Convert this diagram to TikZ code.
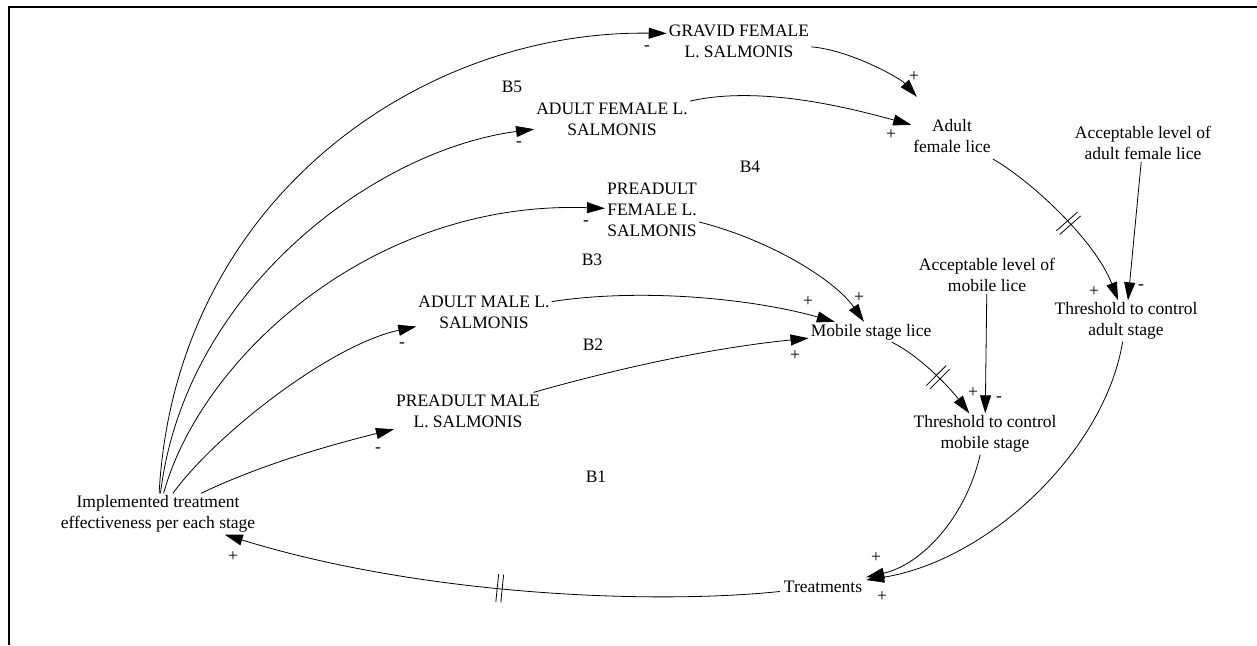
\documentclass[tikz,border=0pt]{standalone}
\usepackage{fontspec}
\setmainfont{Liberation Serif}
\usetikzlibrary{arrows.meta,decorations.markings}
\begin{document}
\begin{tikzpicture}[x=1pt,y=-1pt,
  var/.style={font=\fontsize{17.5}{21}\selectfont, align=center, inner sep=2pt},
  sgn/.style={font=\fontsize{17.5}{21}\selectfont, inner sep=0pt},
  lnk/.style={line width=0.8pt, -{Triangle[length=18pt,width=11pt]}},
  hashmark/.style={postaction={decorate,decoration={markings,mark=at position #1 with {\draw[-,line width=0.8pt] (-2.5pt,-14pt)--(-2.5pt,14pt) (2.5pt,-14pt)--(2.5pt,14pt);}}}}
]
\useasboundingbox (0,0) rectangle (1257,645);
\draw[line width=1.8pt] (9,645) -- (9,7) -- (1257,7);

% variables
\node[var] (gravid) at (739,41) {GRAVID FEMALE\\L. SALMONIS};
\node[var] (af) at (612,119) {ADULT FEMALE L.\\SALMONIS};
\node[var] (pf) at (652,210) {PREADULT\\FEMALE L.\\SALMONIS};
\node[var] (am) at (484,312) {ADULT MALE L.\\SALMONIS};
\node[var] (pm) at (468,411) {PREADULT MALE\\L. SALMONIS};
\node[var, minimum width=80pt, minimum height=78pt] (afl) at (952,136) {Adult\\female lice};
\node[var] (acca) at (1143,143) {Acceptable level of\\adult female lice};
\node[var] (ml) at (871,332) {Mobile stage lice};
\node[var] (accm) at (987,275) {Acceptable level of\\mobile lice};
\node[var] (tha) at (1126,321) {Threshold to control\\adult stage};
\node[var] (thm) at (985,434) {Threshold to control\\mobile stage};
\node[var, minimum width=86pt, minimum height=26pt] (tr) at (823,587) {Treatments};
\node[var] (impl) at (158,514) {Implemented treatment\\effectiveness per each stage};

% loop labels
\node[var] (b5) at (512,87) {B5};
\node[var] (b4) at (750,167) {B4};
\node[var] (b3) at (592,260) {B3};
\node[var] (b2) at (593,345) {B2};
\node[var] (b1) at (596,477) {B1};

% links from treatment effectiveness
\draw[lnk] (impl) .. controls (175,200) and (420,30) .. (gravid.174);
\draw[lnk] (impl) .. controls (185,290) and (375,150) .. (af);
\draw[lnk] (impl) .. controls (200,360) and (370,200) .. (pf);
\draw[lnk] (impl) .. controls (215,435) and (330,345) .. (am);
\draw[lnk] (impl) .. controls (260,465) and (330,445) .. (pm);

% to adult female lice
\draw[lnk] (gravid) .. controls (850,50) and (900,78) .. (afl);
\draw[lnk] (af) .. controls (760,85) and (850,108) .. (afl);

% to mobile stage lice
\draw[lnk] (pf) .. controls (770,240) and (835,280) .. (ml);
\draw[lnk] (am) .. controls (640,288) and (750,298) .. (ml);
\draw[lnk] (pm) .. controls (630,365) and (720,347) .. (ml);

% thresholds
\draw[lnk, hashmark=0.52] (afl) .. controls (1030,180) and (1095,240) .. (tha);
\draw[lnk] (acca) -- (tha);
\draw[lnk, hashmark=0.55] (ml) .. controls (920,356) and (950,388) .. (thm);
\draw[lnk] (accm) -- (thm);

% to treatments
\draw[lnk] (thm) .. controls (965,520) and (920,565) .. (tr);
\draw[lnk] (tha) .. controls (1105,450) and (990,560) .. (tr);

% feedback
\draw[lnk, hashmark=0.5] (tr) .. controls (650,605) and (420,595) .. (impl);

% polarities
\node[sgn] (s1) at (647,48) {-};
\node[sgn] (s2) at (914,77) {+};
\node[sgn] (s3) at (519,144) {-};
\node[sgn] (s4) at (891,135) {+};
\node[sgn] (s5) at (586,223) {-};
\node[sgn] (s6) at (859,298) {+};
\node[sgn] (s7) at (402,345) {-};
\node[sgn] (s8) at (808,302) {+};
\node[sgn] (s9) at (378,450) {-};
\node[sgn] (s10) at (795,356) {+};
\node[sgn] (s11) at (1094,292) {+};
\node[sgn] (s12) at (1141,287) {-};
\node[sgn] (s13) at (973,393) {+};
\node[sgn] (s14) at (999,399) {-};
\node[sgn] (s15) at (876,558) {+};
\node[sgn] (s16) at (882,597) {+};
\node[sgn] (s17) at (233,557) {+};
\end{tikzpicture}
\end{document}
